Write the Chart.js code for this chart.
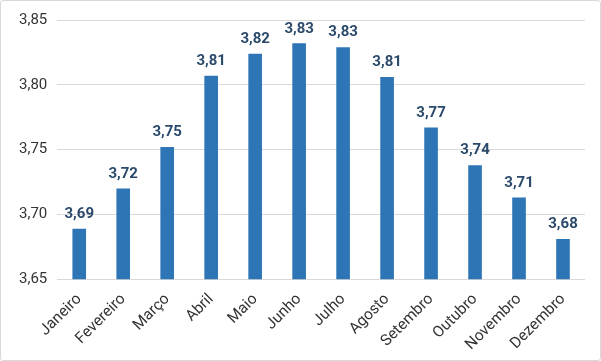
<!DOCTYPE html>
<html>
<head>
<meta charset="utf-8">
<script src="https://cdn.jsdelivr.net/npm/chart.js@4"></script>
<style>
  html, body { margin: 0; padding: 0; background: #fff; }
  #wrap { position: relative; width: 599px; height: 359px; border: 1px solid #d9d9d9; border-radius: 3px; }
</style>
</head>
<body>
<div id="wrap"><canvas id="precoChart" width="599" height="359"></canvas></div>
<script>
const meses = ['Janeiro', 'Fevereiro', 'Março', 'Abril', 'Maio', 'Junho', 'Julho', 'Agosto', 'Setembro', 'Outubro', 'Novembro', 'Dezembro'];
const valores = [3.689, 3.720, 3.752, 3.807, 3.824, 3.832, 3.829, 3.806, 3.767, 3.738, 3.713, 3.681];
const yTicks = [3.65, 3.70, 3.75, 3.80, 3.85];

const fmt = v => v.toFixed(2).replace('.', ',');

// draw value labels above each bar
const valueLabels = {
  id: 'valueLabels',
  afterDatasetsDraw(chart) {
    const ctx = chart.ctx;
    const meta = chart.getDatasetMeta(0);
    ctx.save();
    ctx.font = 'bold 15px Roboto';
    ctx.fillStyle = '#2b4a6b';
    ctx.textAlign = 'center';
    ctx.textBaseline = 'bottom';
    meta.data.forEach((bar, i) => {
      ctx.fillText(fmt(valores[i]), bar.x, bar.y - 7);
    });
    ctx.restore();
  }
};

new Chart(document.getElementById('precoChart'), {
  type: 'bar',
  data: {
    labels: meses,
    datasets: [{
      data: valores,
      backgroundColor: '#2e75b6',
      barPercentage: 0.62,
      categoryPercentage: 0.5
    }]
  },
  options: {
    responsive: false,
    animation: false,
    layout: { padding: { top: 17, right: 15, left: 8, bottom: 3 } },
    plugins: { legend: { display: false }, tooltip: { enabled: false } },
    scales: {
      y: {
        min: 3.65,
        max: 3.85,
        afterBuildTicks: axis => { axis.ticks = yTicks.map(v => ({ value: v })); },
        ticks: { callback: v => fmt(v), color: '#333', font: { family: 'Roboto', size: 15 }, padding: 10 },
        grid: { color: '#d9d9d9', drawTicks: false },
        border: { display: false }
      },
      x: {
        ticks: { color: '#333', font: { family: 'Roboto', size: 15.5 }, minRotation: 45, maxRotation: 45, padding: 3 },
        grid: { display: false },
        border: { display: false }
      }
    }
  },
  plugins: [valueLabels]
});
</script>
</body>
</html>
